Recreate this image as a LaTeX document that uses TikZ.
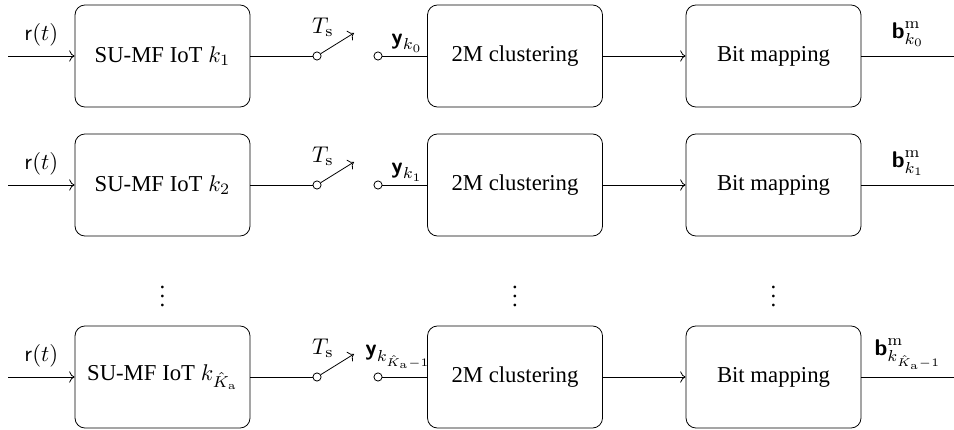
\documentclass[tikz,border=0pt]{standalone}
\usepackage[no-math]{fontspec}
\setmainfont{Liberation Serif}
\usetikzlibrary{arrows.meta}
\newcommand{\bsf}[1]{\textsf{\bfseries #1}}
\tikzset{
  blk/.style={draw, line width=0.35pt, rounded corners=4.4pt, minimum width=77pt, minimum height=44.9pt, inner sep=0pt, font=\normalsize},
  contact/.style={draw, line width=0.35pt, circle, inner sep=0pt, minimum size=3.6pt, fill=white},
  wire/.style={line width=0.35pt},
}
\begin{document}
\begin{tikzpicture}[x=0.44pt,y=-0.44pt]
\useasboundingbox (0,0) rectangle (954,430);
\foreach \i/\yy/\kmf in {
  1/56/{k_1},
  2/185/{k_2},
  3/377/{k_{\hat{K}_{\mathrm{a}}}}}{
  \coordinate (in\i) at (8,\yy);
  \node[blk] (mf\i) at (162.5,\yy) {SU-MF IoT $\kmf$};
  \node[contact] (sa\i) at (317,\yy) {};
  \coordinate (lev\i) at (354,\yy-23);
  \node[contact] (sb\i) at (378,\yy) {};
  \node[blk] (cl\i) at (515,\yy) {2M clustering};
  \node[blk] (bm\i) at (773.5,\yy) {Bit mapping};
  \coordinate (out\i) at (954,\yy);
  \draw[wire,->] (in\i) -- node[above=1pt] {$\mathsf{r}(t)$} (mf\i);
  \draw[wire] (mf\i) -- (sa\i);
  \draw[wire,->] (sa\i) -- (lev\i);
  \node (ts\i) at (323,\yy-29) {$T_{\mathrm{s}}$};
  \draw[wire] (sb\i) -- (cl\i);
  \draw[wire,->] (cl\i) -- (bm\i);
  \draw[wire] (bm\i) -- (out\i);
}
\node (ylab1) at (407,43) {$\bsf{y}_{k_0}$};
\node (ylab2) at (407,172) {$\bsf{y}_{k_1}$};
\node (ylab3) at (398,357) {$\bsf{y}_{k_{\hat{K}_{\mathrm{a}}-1}}$};
\node (blab1) at (908,34) {$\bsf{b}^{\mathrm{m}}_{k_0}$};
\node (blab2) at (908,163) {$\bsf{b}^{\mathrm{m}}_{k_1}$};
\node (blab3) at (908,354) {$\bsf{b}^{\mathrm{m}}_{k_{\hat{K}_{\mathrm{a}}-1}}$};
\node (d1) at (162.5,290) {$\vdots$};
\node (d2) at (515,290) {$\vdots$};
\node (d3) at (773.5,290) {$\vdots$};
\end{tikzpicture}
\end{document}
